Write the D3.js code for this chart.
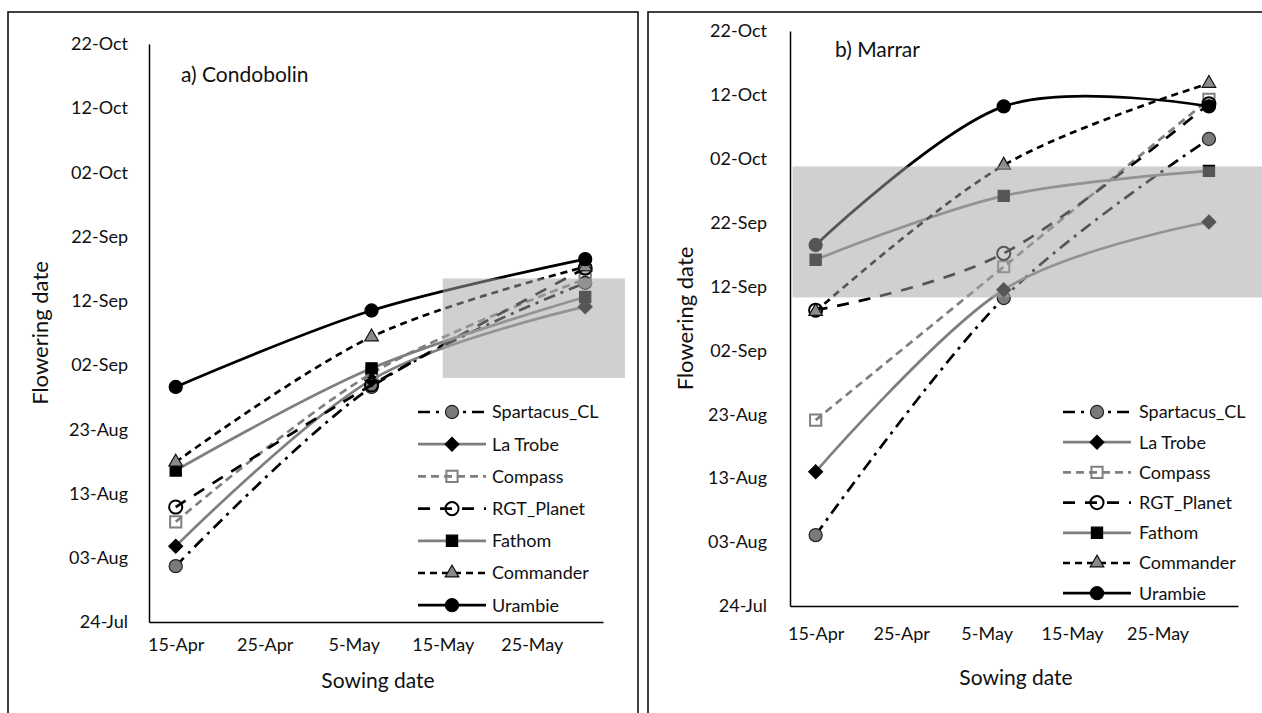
<!DOCTYPE html>
<meta charset="utf-8">
<style>
    body {
        margin: 0;
        padding: 0;
        background: #fff;
    }
    svg text {
        font-family: Lato, "Open Sans", sans-serif;
        fill: #111;
    }
</style>
<body>
<script src="https://cdn.jsdelivr.net/npm/d3@7"></script>
<script>

// all dates are day-of-year (non leap year)
var sowingDays = [105, 127, 151]; // 15-Apr, 7-May, 31-May

var varieties = ["Spartacus_CL", "La Trobe", "Compass", "RGT_Planet", "Fathom", "Commander", "Urambie"];

// a) Condobolin flowering dates
var condoSpartacus = [213.7, 241.6, 257.8];
var condoLaTrobe   = [216.8, 242.7, 254.1];
var condoCompass   = [220.6, 243.7, 258.4];
var condoPlanet    = [222.9, 241.9, 260.1];
var condoFathom    = [228.6, 244.5, 255.6];
var condoCommander = [229.9, 249.4, 260.3];
var condoUrambie   = [241.6, 253.5, 261.5];

// b) Marrar flowering dates
var marrarSpartacus = [216.1, 253.2, 278.1];
var marrarLaTrobe   = [226.0, 254.5, 265.1];
var marrarCompass   = [234.1, 258.1, 284.3];
var marrarPlanet    = [251.3, 260.2, 283.6];
var marrarFathom    = [259.2, 269.2, 273.1];
var marrarCommander = [251.1, 274.0, 286.8];
var marrarUrambie   = [261.5, 283.2, 283.2];

// shaded windows [sow from, sow to, flower from, flower to]
var condoBand  = [135, 155.5, 243, 258.5];
var marrarBand = [102.3, 157.5, 253.3, 273.8];

var yTickDays   = [205, 215, 225, 235, 245, 255, 265, 275, 285, 295];
var yTickLabels = ["24-Jul", "03-Aug", "13-Aug", "23-Aug", "02-Sep", "12-Sep", "22-Sep", "02-Oct", "12-Oct", "22-Oct"];
var xTickDays   = [105, 115, 125, 135, 145];
var xTickLabels = ["15-Apr", "25-Apr", "5-May", "15-May", "25-May"];

var styles = [
  {stroke: "#000", dash: "12,6,3,6", marker: "circle", fill: "#7a7a7a", mstroke: "#222"},
  {stroke: "#7f7f7f", dash: null, marker: "diamond", fill: "#000", mstroke: "#000"},
  {stroke: "#7f7f7f", dash: "8,5", marker: "square", fill: "none", mstroke: "#7f7f7f"},
  {stroke: "#000", dash: "12,10", marker: "circle", fill: "none", mstroke: "#000"},
  {stroke: "#7f7f7f", dash: null, marker: "square", fill: "#000", mstroke: "#000"},
  {stroke: "#000", dash: "7,5", marker: "triangle", fill: "#8a8a8a", mstroke: "#111"},
  {stroke: "#000", dash: null, marker: "circle", fill: "#000", mstroke: "#000"}
];

var panels = [
  {
    frame: [8, 12, 630, 720],
    xRange: [149, 603], xDomain: [102, 153],
    yRange: [622, 44],
    title: "a) Condobolin", titlePos: [181, 82],
    yTitleX: 40, xTitleY: 688, xLabelY: 651, yLabelX: 128,
    bandRight: 625,
    legend: {x1: 418, x2: 486, tx: 492, y0: 412, dy: 32.2},
    series: [condoSpartacus, condoLaTrobe, condoCompass, condoPlanet, condoFathom, condoCommander, condoUrambie],
    band: condoBand
  },
  {
    frame: [648, 12, 700, 720],
    xRange: [790, 1238], xDomain: [102, 154.4],
    yRange: [606, 31],
    title: "b) Marrar", titlePos: [835, 57],
    yTitleX: 685, xTitleY: 685, xLabelY: 640, yLabelX: 767,
    legend: {x1: 1063, x2: 1131, tx: 1139, y0: 412, dy: 30.2},
    series: [marrarSpartacus, marrarLaTrobe, marrarCompass, marrarPlanet, marrarFathom, marrarCommander, marrarUrambie],
    band: marrarBand
  }
];

var svg = d3.select("body").append("svg")
    .attr("width", 1262)
    .attr("height", 713);

function drawMarker(g, st, x, y) {
  var sym = {circle: d3.symbolCircle, diamond: d3.symbolSquare, square: d3.symbolSquare, triangle: d3.symbolTriangle}[st.marker];
  var size = {circle: 135, diamond: 95, square: 125, triangle: 80}[st.marker];
  g.append("path")
    .attr("d", d3.symbol().type(sym).size(size)())
    .attr("transform", "translate(" + x + "," + y + ")" + (st.marker == "diamond" ? " rotate(45)" : ""))
    .attr("fill", st.fill)
    .attr("stroke", st.mstroke)
    .attr("stroke-width", st.fill == "none" ? 2 : 1.2);
}

panels.forEach(function(p) {
  var g = svg.append("g");

  g.append("rect")
    .attr("x", p.frame[0]).attr("y", p.frame[1])
    .attr("width", p.frame[2]).attr("height", p.frame[3])
    .attr("fill", "none").attr("stroke", "#000").attr("stroke-width", 1.5);

  var x = d3.scaleLinear().domain(p.xDomain).range(p.xRange);
  var y = d3.scaleLinear().domain([205, 295]).range(p.yRange);

  // axes (no tick marks, like the original)
  var yAxis = d3.axisLeft(y).tickValues(yTickDays).tickSize(0)
      .tickFormat(function(d, i) { return yTickLabels[i]; });
  var ya = g.append("g").attr("transform", "translate(" + p.xRange[0] + ",0)").call(yAxis);
  ya.select(".domain").attr("stroke", "#000").attr("stroke-width", 1.5);
  ya.selectAll("text").attr("x", p.yLabelX - p.xRange[0]).attr("font-size", 18).attr("font-family", null);

  var xAxis = d3.axisBottom(x).tickValues(xTickDays).tickSize(0)
      .tickFormat(function(d, i) { return xTickLabels[i]; });
  var xa = g.append("g").attr("transform", "translate(0," + p.yRange[0] + ")").call(xAxis);
  xa.select(".domain").attr("stroke", "#000").attr("stroke-width", 1.5);
  xa.selectAll("text").attr("y", p.xLabelY - p.yRange[0]).attr("dy", null).attr("font-size", 18).attr("font-family", null);

  // series
  var line = d3.line()
      .x(function(d, i) { return x(sowingDays[i]); })
      .y(function(d) { return y(d); })
      .curve(d3.curveCardinal.tension(0));

  p.series.forEach(function(vals, k) {
    var st = styles[k];
    g.append("path")
      .attr("d", line(vals))
      .attr("fill", "none")
      .attr("stroke", st.stroke)
      .attr("stroke-width", 2.7)
      .attr("stroke-dasharray", st.dash);
    vals.forEach(function(v, i) {
      drawMarker(g, st, x(sowingDays[i]), y(v));
    });
  });

  // translucent shaded window over the lines
  var bx0 = x(p.band[0]);
  var bx1 = p.bandRight ? p.bandRight : x(p.band[1]);
  g.append("rect")
    .attr("x", bx0).attr("y", y(p.band[3]))
    .attr("width", bx1 - bx0).attr("height", y(p.band[2]) - y(p.band[3]))
    .attr("fill", "rgb(165,165,165)").attr("fill-opacity", 0.52);

  // titles
  g.append("text")
    .attr("x", p.titlePos[0]).attr("y", p.titlePos[1])
    .attr("font-size", 21)
    .text(p.title);

  g.append("text")
    .attr("transform", "translate(" + p.yTitleX + "," + ((p.yRange[0] + p.yRange[1]) / 2) + ") rotate(-90)")
    .attr("text-anchor", "middle")
    .attr("dy", "0.35em")
    .attr("font-size", 22)
    .text("Flowering date");

  g.append("text")
    .attr("x", (p.xRange[0] + p.xRange[1]) / 2 + 2)
    .attr("y", p.xTitleY)
    .attr("text-anchor", "middle")
    .attr("font-size", 21)
    .text("Sowing date");

  // legend
  var lg = g.append("g");
  varieties.forEach(function(name, k) {
    var st = styles[k];
    var ly = p.legend.y0 + k * p.legend.dy;
    lg.append("line")
      .attr("x1", p.legend.x1).attr("x2", p.legend.x2)
      .attr("y1", ly).attr("y2", ly)
      .attr("stroke", st.stroke).attr("stroke-width", 2.7)
      .attr("stroke-dasharray", st.dash);
    drawMarker(lg, st, (p.legend.x1 + p.legend.x2) / 2, ly);
    lg.append("text")
      .attr("x", p.legend.tx).attr("y", ly)
      .attr("dy", "0.35em")
      .attr("font-size", 18)
      .text(name);
  });
});

</script>
